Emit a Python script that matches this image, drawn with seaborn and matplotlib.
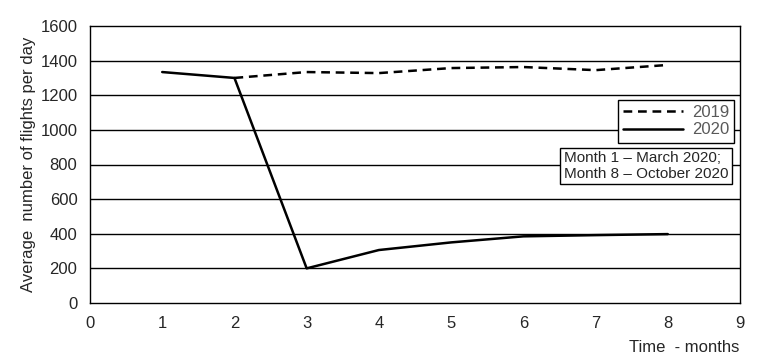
import matplotlib
matplotlib.use("Agg")
import matplotlib.pyplot as plt
import seaborn as sns
import pandas as pd
from matplotlib.lines import Line2D

months = [1, 2, 3, 4, 5, 6, 7, 8]
flights_2019 = [None, 1300, 1334, 1328, 1357, 1363, 1345, 1375]
flights_2020 = [1334, 1300, 200, 306, 350, 385, 392, 398]
yticks = [0, 200, 400, 600, 800, 1000, 1200, 1400, 1600]
xticks = [0, 1, 2, 3, 4, 5, 6, 7, 8, 9]

rows = []
for m, v in zip(months, flights_2019):
    if v is not None:
        rows.append({"month": m, "flights": v, "year": "2019"})
for m, v in zip(months, flights_2020):
    rows.append({"month": m, "flights": v, "year": "2020"})
df = pd.DataFrame(rows)

sns.set_style("white")
plt.rcParams["font.family"] = ["Liberation Sans", "DejaVu Sans"]

fig = plt.figure(figsize=(7.66, 3.63), dpi=100)
ax = fig.add_axes([90 / 766, 60 / 363, 650 / 766, 277 / 363])

dash = (3.5, 2.3)
sns.lineplot(data=df, x="month", y="flights", hue="year", style="year",
             palette={"2019": "black", "2020": "black"},
             dashes={"2019": dash, "2020": ""}, linewidth=1.8, ax=ax,
             legend=False)

ax.set_xlim(0, 9)
ax.set_ylim(0, 1600)
ax.set_xticks(xticks)
ax.set_yticks(yticks)
ax.tick_params(axis="y", length=0, labelsize=12, pad=9)
ax.tick_params(axis="x", length=0, labelsize=12, pad=9)
for y in yticks[1:-1]:
    ax.axhline(y, color="black", linewidth=1.0, zorder=0)
for s in ax.spines.values():
    s.set_color("black")
    s.set_linewidth(1.0)

ax.set_xlabel("")
ax.set_ylabel("Average  number of flights per day", fontsize=12, labelpad=3)
fig.text(684 / 766, 1 - 347 / 363, "Time  - months", ha="center", va="center", fontsize=12)

handles = [Line2D([], [], color="black", linestyle=(0, dash), linewidth=1.8),
           Line2D([], [], color="black", linestyle="-", linewidth=1.8)]
leg = ax.legend(handles, ["2019", "2020"], loc="upper right", fontsize=12,
                frameon=True, fancybox=False, framealpha=1, edgecolor="black",
                borderpad=0.3, handlelength=3.6, handletextpad=0.5,
                labelspacing=0.15, borderaxespad=0)
for t in leg.get_texts():
    t.set_color("#595959")
leg.get_frame().set_linewidth(1.0)
leg.set_bbox_to_anchor((734 / 766, 1 - 100 / 363), transform=fig.transFigure)

fig.text(564 / 766, 1 - 166 / 363, "Month 1 \u2013 March 2020;\nMonth 8 \u2013 October 2020",
         ha="left", va="center", fontsize=11, linespacing=1.1,
         bbox=dict(boxstyle="square,pad=0.25", facecolor="white", edgecolor="black", linewidth=1.0))

fig.savefig("out.png", dpi=100)
